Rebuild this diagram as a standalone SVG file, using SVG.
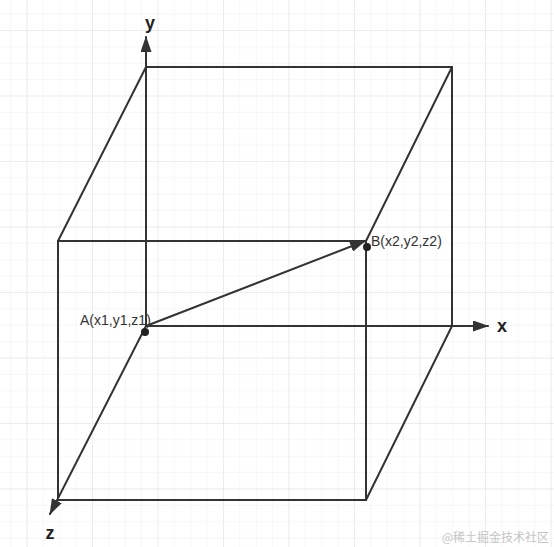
<svg xmlns="http://www.w3.org/2000/svg" width="554" height="547" viewBox="0 0 554 547">
  <style>
    .edge { stroke: #333; stroke-width: 2; fill: none; stroke-linecap: round; }
    .lbl { font-family: "Liberation Sans", Arial, sans-serif; font-size: 14px; fill: #333; }
    .axis { font-family: "Liberation Sans", Arial, sans-serif; font-size: 18px; font-weight: bold; fill: #222; }
    .dot { fill: #222; }
  </style>
  <defs>
    <pattern id="minor" x="10.1" y="13.6" width="16.375" height="16.375" patternUnits="userSpaceOnUse">
      <path d="M 0 0 L 0 16.375 M 0 0 L 16.375 0" stroke="#efefef" stroke-width="1" fill="none"/>
    </pattern>
    <pattern id="major" x="26.5" y="30" width="65.5" height="65.5" patternUnits="userSpaceOnUse">
      <path d="M 0 0 L 0 65.5 M 0 0 L 65.5 0" stroke="#e2e2e2" stroke-width="1" fill="none"/>
    </pattern>
    <marker id="arrow" viewBox="0 0 16 11" refX="15" refY="5.5" markerWidth="16" markerHeight="11" markerUnits="userSpaceOnUse" orient="auto">
      <path d="M 0 0 L 16 5.5 L 0 11 Z" fill="#333"/>
    </marker>
  </defs>
  <rect width="554" height="547" fill="#ffffff"/>
  <rect width="554" height="547" fill="url(#minor)"/>
  <rect width="554" height="547" fill="url(#major)"/>

  <g id="connectors">
    <!-- cube back face -->
    <path class="edge" d="M 146 67 L 452 67 L 452 326"/>
    <!-- cube front face -->
    <path class="edge" d="M 58 241 L 366 241 L 366 500 L 58 500 Z"/>
    <!-- depth edges -->
    <path class="edge" d="M 58 241 L 146 67"/>
    <path class="edge" d="M 366 241 L 452 67"/>
    <path class="edge" d="M 366 500 L 452 326"/>
    <!-- axes -->
    <line class="edge" x1="146" y1="326" x2="146" y2="37" marker-end="url(#arrow)"/>
    <line class="edge" x1="146" y1="326" x2="488" y2="326" marker-end="url(#arrow)"/>
    <line class="edge" x1="146" y1="326" x2="50" y2="514" marker-end="url(#arrow)"/>
    <!-- vector A to B -->
    <line class="edge" x1="146" y1="326" x2="365" y2="241" marker-end="url(#arrow)"/>
  </g>

  <g id="axis-y"><text class="axis" x="150" y="29" text-anchor="middle">y</text></g>
  <g id="axis-x"><text class="axis" x="502" y="332" text-anchor="middle">x</text></g>
  <g id="axis-z"><text class="axis" x="50" y="539" text-anchor="middle">z</text></g>

  <g id="point-a">
    <circle class="dot" cx="145" cy="332" r="4"/>
    <text class="lbl" x="80" y="325">A(x1,y1,z1)</text>
  </g>
  <g id="point-b">
    <circle class="dot" cx="367" cy="247" r="4"/>
    <text class="lbl" x="371" y="246">B(x2,y2,z2)</text>
  </g>

  <g id="watermark">
    <text x="549" y="542" text-anchor="end" font-family="'Noto Sans CJK SC', 'Liberation Sans', sans-serif" font-size="12" fill="#c4c4c4">@稀土掘金技术社区</text>
  </g>
</svg>
